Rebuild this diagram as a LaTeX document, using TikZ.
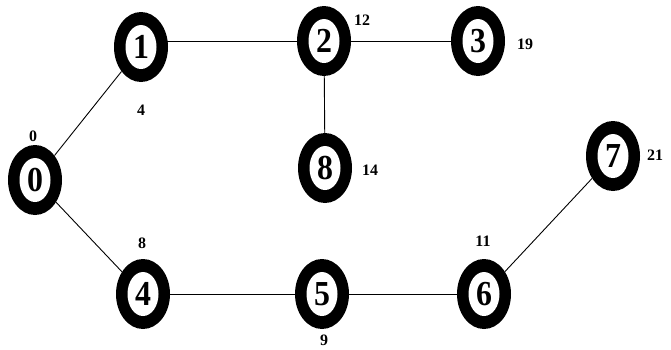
\documentclass[tikz,border=0pt]{standalone}
\usepackage{fontspec}
\usepackage{graphicx}
\setmainfont{Liberation Serif}
\usetikzlibrary{shapes.geometric}
\tikzset{
  vertex/.style={ellipse, fill=black, minimum width=54bp, minimum height=70bp, inner sep=0pt},
  hole/.style={ellipse, fill=white, minimum width=31bp, minimum height=44bp, inner sep=0pt,
    font=\fontsize{32}{32}\selectfont\bfseries},
  dist/.style={inner sep=0pt, font=\fontsize{16}{16}\selectfont\bfseries},
  edge/.style={line width=0.9bp, draw=black}
}
\newcommand{\tallnum}[1]{\scalebox{1}[1.1]{#1}}
\begin{document}
\begin{tikzpicture}[x=1bp,y=-1bp]
\useasboundingbox (0,0) rectangle (671,349);
\fill[white] (0,0) rectangle (671,349);
% vertices
\node[vertex] (n0) at (35,180) {};
\node[vertex] (n1) at (141,47) {};
\node[vertex] (n2) at (324,41) {};
\node[vertex] (n3) at (478,41) {};
\node[vertex] (n8) at (325,168) {};
\node[vertex] (n4) at (143,294) {};
\node[vertex] (n5) at (322,294) {};
\node[vertex] (n6) at (484,294) {};
\node[vertex] (n7) at (613,156) {};
% edges
\draw[edge] (n0) -- (n1);
\draw[edge] ([xshift=-3bp]n1.east |- n2) -- (n2);
\draw[edge] (n2) -- (n3);
\draw[edge] (n2) -- (n8);
\draw[edge] (n0) -- (n4);
\draw[edge] (n4) -- (n5);
\draw[edge] (n5) -- (n6);
\draw[edge] (n6) -- (n7);
% inner holes with labels
\node[hole] (h0) at (n0) {\tallnum{0}};
\node[hole] (h1) at (n1) {\tallnum{1}};
\node[hole] (h2) at (n2) {\tallnum{2}};
\node[hole] (h3) at (n3) {\tallnum{3}};
\node[hole] (h8) at (n8) {\tallnum{8}};
\node[hole] (h4) at (n4) {\tallnum{4}};
\node[hole] (h5) at (n5) {\tallnum{5}};
\node[hole] (h6) at (n6) {\tallnum{6}};
\node[hole] (h7) at (n7) {\tallnum{7}};
% distance labels
\node[dist] (d0) at (33,136) {0};
\node[dist] (d1) at (141,110) {4};
\node[dist] (d2) at (362,20) {12};
\node[dist] (d3) at (525,44) {19};
\node[dist] (d8) at (370,170) {14};
\node[dist] (d7) at (655,155) {21};
\node[dist] (d4) at (142,243) {8};
\node[dist] (d6) at (483,241) {11};
\node[dist] (d5) at (324,340) {9};
\end{tikzpicture}
\end{document}
